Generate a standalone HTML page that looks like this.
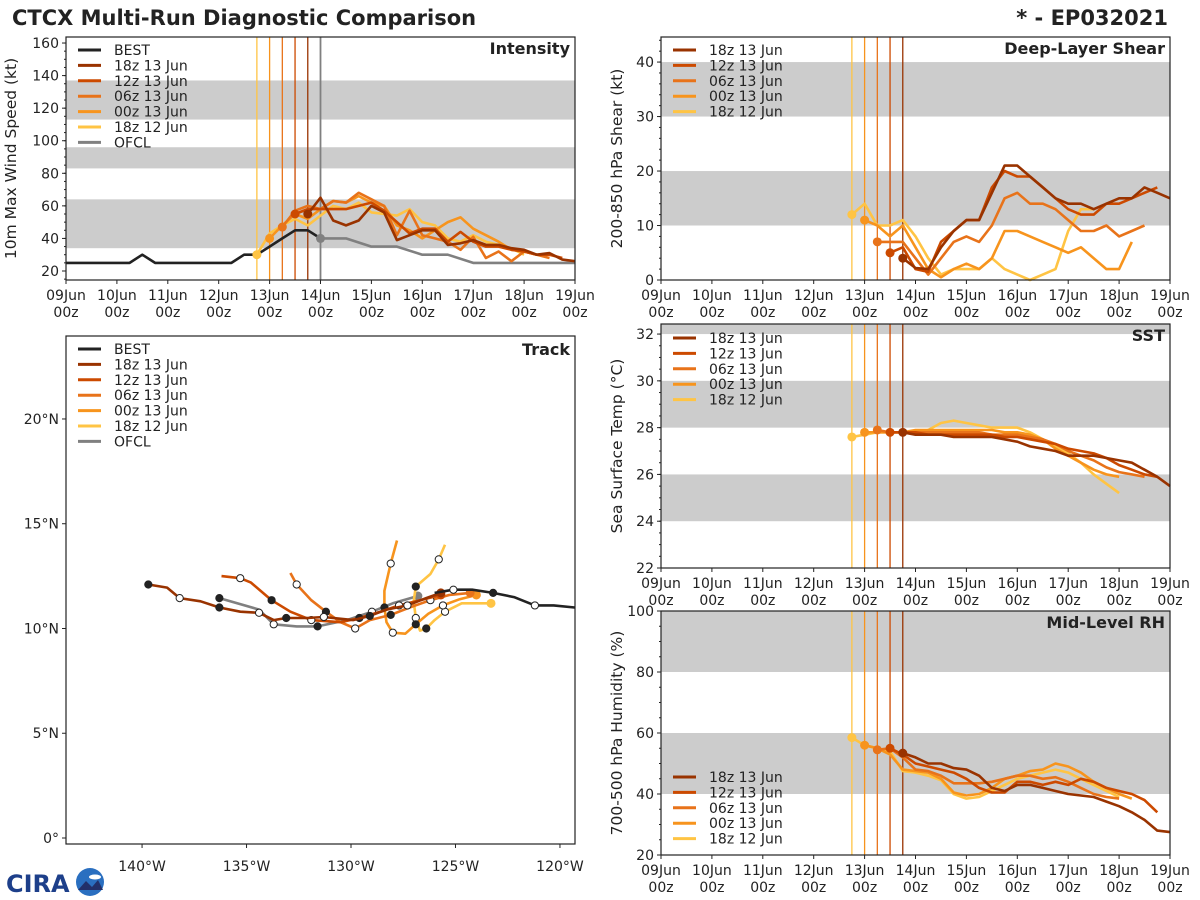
<!DOCTYPE html>
<html><head><meta charset="utf-8"><style>
html,body{margin:0;padding:0;background:#fff;}
svg{display:block;font-family:"DejaVu Sans","Liberation Sans",sans-serif;}
</style></head><body>
<svg id="fig" width="1200" height="900" viewBox="0 0 1200 900" xmlns="http://www.w3.org/2000/svg">
<text x="12" y="25" font-size="21" font-weight="bold" fill="#222">CTCX Multi-Run Diagnostic Comparison</text>
<text x="1168" y="25" font-size="21" font-weight="bold" fill="#222" text-anchor="end">* - EP032021</text>
<g>
<text x="6" y="892" font-size="24" font-weight="bold" fill="#1d3f8a">CIRA</text>
<circle cx="90" cy="882" r="14" fill="#2a6fc0"/>
<ellipse cx="95" cy="877" rx="6" ry="2.5" fill="#fff"/>
<path d="M78 890 L86 881 L92 887 L98 880 L103 890 Z" fill="#22306a"/>
</g>
</svg>
<script>
// ---------- data ----------
const dayLabels = ["09Jun","10Jun","11Jun","12Jun","13Jun","14Jun","15Jun","16Jun","17Jun","18Jun","19Jun"];
const runNames = ["18z 13 Jun","12z 13 Jun","06z 13 Jun","00z 13 Jun","18z 12 Jun"];
const runColors = ["#993300","#cc4a00","#e8731a","#f7941d","#ffc444"];
const runInit = [4.75, 4.5, 4.25, 4.0, 3.75]; // days since 09Jun 00z

const bestTimes = [0,0.25,0.5,0.75,1,1.25,1.5,1.75,2,2.25,2.5,2.75,3,3.25,3.5,3.75,4,4.25,4.5,4.75,5];
const bestVmax = [25,25,25,25,25,25,30,25,25,25,25,25,25,25,30,30,35,40,45,45,40];
const ofclTimes = [5,5.5,6,6.5,7,7.5,8,8.5,9,9.5,10];
const ofclVmax = [40,40,35,35,30,30,25,25,25,25,25];

const vmax18z13 = [55,65,51,48,51,60,56,39,42,45,45,36,37,39,36,36,34,33,30,31,27,26];
const vmax12z13 = [55,58,58,58,58,60,62,57,50,43,46,46,38,44,38,35,35,33,32,30,30,28];
const vmax06z13 = [47,57,60,58,63,62,68,64,60,42,57,42,40,38,33,41,28,32,26,32,30,28];
const vmax00z13 = [40,48,55,52,58,63,62,66,62,60,48,45,40,45,50,53,46,42,38,33,32,30];
const vmax18z12 = [30,43,48,52,48,54,60,58,62,56,55,54,58,50,48,40,38,42,38,36,34,30];

const shr18z13 = [4,2.2,2,6,9,11,11,16,21,21,19,17,15,14,14,13,14,15,15,17,16,15];
const shr12z13 = [5,6,2,1.5,7,9,11,11,17,20,19,19,17,15,13,12,12,14,14,15,16,17];
const shr06z13 = [7,7,7,4,1,4,7,8,7,10,15,16,14,14,13,11,9,9,10,8,9,10];
const shr00z13 = [11,10,8,10,6,2,0.5,2,3,2,4,9,9,8,7,6,5,6,4,2,2,7];
const shr18z12 = [12,14,10,10,11,8,4,1,2,2,2,4,2,1,0,1,2,9,13,13];

const sst18z13 = [27.8,27.7,27.7,27.7,27.6,27.6,27.6,27.6,27.5,27.4,27.2,27.1,27.0,26.8,26.8,26.8,26.7,26.6,26.5,26.2,25.9,25.5];
const sst12z13 = [27.8,27.8,27.8,27.7,27.7,27.7,27.7,27.7,27.7,27.6,27.6,27.5,27.4,27.3,27.1,27.0,26.9,26.7,26.4,26.2,26.0,25.9];
const sst06z13 = [27.9,27.8,27.8,27.8,27.8,27.8,27.8,27.8,27.8,27.7,27.7,27.7,27.6,27.5,27.3,27.0,26.8,26.6,26.3,26.1,26.0,25.9];
const sst00z13 = [27.8,27.8,27.8,27.8,27.9,27.9,27.9,27.9,27.9,27.9,27.9,27.8,27.8,27.7,27.5,27.1,26.8,26.5,26.2,26.0,25.9];
const sst18z12 = [27.6,27.7,27.8,27.8,27.8,27.8,27.9,28.2,28.3,28.2,28.1,28.0,28.0,28.0,27.8,27.5,27.2,26.9,26.5,26.0,25.6,25.2];

const rh18z13 = [53.4,52,50,50,48.5,48,46,42,41,43,43,42,41,40,39.5,39,37.5,36,34,31.5,28,27.5];
const rh12z13 = [55,53,50,49,48,47,45,42,40.5,40.5,44,44,43,44,43,45,44,42,41,40,38,34];
const rh06z13 = [54.5,55,52,48,47.5,46,43.5,43.5,43.5,44,45,46,46,45,45.5,44,42,40,39,38.5];
const rh00z13 = [56,55,53,48,47.5,47,45,40.5,39.5,40,42,45,46,47.5,48,50,49,47,44,42,40,38.5];
const rh18z12 = [58.5,56,55,54,47.5,47,46,44.5,40,38.5,39,41,43,45,46,47,48,47,45,43,41,39];

// track data: [lon(deg E, negative = W), lat]
const trkBest = [[-119.3,11.0],[-120.3,11.1],[-121.2,11.1],[-122.2,11.5],[-123.2,11.7],[-124.2,11.85],[-125.1,11.85],[-126.0,11.7]];
const trkOfcl = [[-126.8,11.55],[-128.0,11.2],[-129.0,10.8],[-130.2,10.4],[-131.6,10.1],[-132.6,10.1],[-133.7,10.2],[-134.4,10.9],[-136.3,11.45]];
const trk18z13 = [[-125.7,11.7],[-126.4,11.45],[-127.3,11.1],[-128.3,10.9],[-129.1,10.6],[-129.9,10.4],[-131.3,10.55],[-132.1,10.5],[-133.1,10.5],[-133.7,10.4],[-134.4,10.75],[-135.3,10.8],[-136.3,11.0],[-137.2,11.3],[-138.2,11.45],[-138.8,11.95],[-139.7,12.1]];
const trk12z13 = [[-125.7,11.6],[-126.7,11.35],[-127.7,11.1],[-128.6,10.8],[-129.6,10.5],[-130.5,10.3],[-131.9,10.4],[-132.9,10.8],[-133.8,11.35],[-134.8,12.2],[-135.3,12.4],[-136.2,12.5]];
const trk06z13 = [[-124.3,11.7],[-125.3,11.6],[-126.2,11.35],[-127.2,11.0],[-128.1,10.65],[-129.1,10.4],[-129.8,10.0],[-130.5,10.3],[-131.2,10.8],[-131.9,11.35],[-132.6,12.1],[-132.9,12.65]];
const trk00z13 = [[-124.0,11.6],[-124.8,11.4],[-125.6,11.1],[-126.3,10.7],[-126.9,10.2],[-127.4,9.75],[-128.0,9.8],[-128.3,10.3],[-128.4,11.0],[-128.4,11.8],[-128.1,13.1],[-127.8,14.2]];
const trk18z12 = [[-123.3,11.2],[-124.7,11.2],[-125.5,10.8],[-126.0,10.4],[-126.4,10.0],[-126.7,9.9],[-126.9,10.5],[-127.0,11.3],[-126.9,12.0],[-126.2,12.6],[-125.8,13.3],[-125.5,14.0]];
const lonTicks = [-140,-135,-130,-125,-120];
const lonTickLabels = ["140°W","135°W","130°W","125°W","120°W"];
const latTicks = [0,5,10,15,20];
const latTickLabels = ["0°","5°N","10°N","15°N","20°N"];

// ---------- drawing ----------
const NS = "http://www.w3.org/2000/svg";
const svg = document.getElementById("fig");
function mk(tag, attrs, parent){ const e=document.createElementNS(NS,tag); for(const k in attrs) e.setAttribute(k,attrs[k]); (parent||svg).appendChild(e); return e; }
function pts(arr){ return arr.map(p=>p[0].toFixed(1)+","+p[1].toFixed(1)).join(" "); }

function makePanel(cfg){
  const g = mk("g",{});
  
  
  const X = d => cfg.x0 + (d - cfg.dmin)/(cfg.dmax-cfg.dmin)*(cfg.x1-cfg.x0);
  const Y = v => cfg.y1 - (v - cfg.vmin)/(cfg.vmax-cfg.vmin)*(cfg.y1-cfg.y0);
  cfg.bands.forEach(b=>{
    const y0=Math.max(cfg.y0,Y(b[1])), y1=Math.min(cfg.y1,Y(b[0]));
    const r = mk("rect",{x:cfg.x0,y:y0,width:cfg.x1-cfg.x0,height:y1-y0,fill:"#cccccc"},g);
    
    
  });
  return {g,X,Y};
}

function timeAxes(p,cfg){
  const g=p.g;
  const frame = mk("rect",{x:cfg.x0,y:cfg.y0,width:cfg.x1-cfg.x0,height:cfg.y1-cfg.y0,fill:"none",stroke:"#222","stroke-width":1.2},g);
  
  
  dayLabels.forEach((lab,i)=>{
    const x=p.X(i);
    mk("line",{x1:x,x2:x,y1:cfg.y1,y2:cfg.y1+4,stroke:"#222"},g);
    const t=mk("text",{x:x,y:cfg.y1+20,"font-size":14,"text-anchor":"middle",fill:"#222"},g);
    
    
    t.textContent=lab;
    const t2=mk("text",{x:x,y:cfg.y1+37,"font-size":14,"text-anchor":"middle",fill:"#222"},g);
    
    
    t2.textContent="00z";
  });
  for(let v=cfg.minorStart; v<=cfg.vmax; v+=cfg.minor){
    const y=p.Y(v); mk("line",{x1:cfg.x0-2,x2:cfg.x0,y1:y,y2:y,stroke:"#222"},g);
  }
  cfg.yticks.forEach(v=>{
    const y=p.Y(v);
    mk("line",{x1:cfg.x0-4,x2:cfg.x0,y1:y,y2:y,stroke:"#222"},g);
    const t=mk("text",{x:cfg.x0-7,y:y+5,"font-size":14,"text-anchor":"end",fill:"#222"},g);
    
    
    t.textContent=v;
  });
  const cy=(cfg.y0+cfg.y1)/2;
  const yl=mk("text",{x:cfg.ylabX,y:cy,"font-size":15.5,"text-anchor":"middle",fill:"#222",transform:`rotate(-90 ${cfg.ylabX} ${cy})`},g);
  
  
  yl.textContent=cfg.ylabel;
  const tt=mk("text",{x:cfg.x1-5,y:cfg.y0+17,"font-size":16,"font-weight":"bold","text-anchor":"end",fill:"#222"},g);
  
  
  tt.textContent=cfg.title;
}

function legend(g,x,y,entries){
  const lg=mk("g",{},g);
  
  
  entries.forEach((e,i)=>{
    const yy=y+i*15.4;
    const ln=mk("line",{x1:x,x2:x+23,y1:yy,y2:yy,stroke:e[1],"stroke-width":3},lg);
    
    
    const t=mk("text",{x:x+36,y:yy+5,"font-size":14,fill:"#222"},lg);
    
    
    t.textContent=e[0];
  });
}

function initLines(p,cfg,withOfcl){
  runInit.forEach((d,i)=>{
    const l=mk("line",{x1:p.X(d),x2:p.X(d),y1:cfg.y0,y2:cfg.y1,stroke:runColors[i],"stroke-width":1.3},p.g);
    
    
  });
  if(withOfcl){
    const l=mk("line",{x1:p.X(5),x2:p.X(5),y1:cfg.y0,y2:cfg.y1,stroke:"#808080","stroke-width":1.8},p.g);
    
    
  }
}

function series(p,times,vals,color,name,dot){
  const arr=vals.map((v,i)=>[p.X(times[i]),p.Y(v)]);
  const pl=mk("polyline",{points:pts(arr),fill:"none",stroke:color,"stroke-width":2.6,"stroke-linejoin":"round"},p.g);
  
  
  if(dot){
    const c=mk("circle",{cx:arr[0][0],cy:arr[0][1],r:4.5,fill:color},p.g);
    
    
  }
}
function runTimes(i,n){ const t=[]; for(let k=0;k<n;k++) t.push(runInit[i]+0.25*k); return t; }
function drawRuns(p,sets,base){
  for(let i=sets.length-1;i>=0;i--){
    series(p,runTimes(i,sets[i].length),sets[i],runColors[i],base+'-'+runNames[i].replace(/ /g,'').toLowerCase(),true);
  }
}

const runEntries = runNames.map((n,i)=>[n,runColors[i]]);

// Intensity
const c1={name:"intensity-panel",x0:66,x1:575,y0:37,y1:280,dmin:0,dmax:10,vmin:14.47,vmax:163.7,bands:[[34,64],[83,96],[113,137]],yticks:[20,40,60,80,100,120,140,160],minor:5,minorStart:15,ylabX:16,ylabel:"10m Max Wind Speed (kt)",title:"Intensity"};
const p1=makePanel(c1);
initLines(p1,c1,true);
series(p1,bestTimes,bestVmax,"#222222","best-intensity-line",false);
series(p1,ofclTimes,ofclVmax,"#808080","ofcl-intensity-line",true);
drawRuns(p1,[vmax18z13,vmax12z13,vmax06z13,vmax00z13,vmax18z12],"intensity");
timeAxes(p1,c1);
legend(p1.g,78,50,[["BEST","#222"]].concat(runEntries,[["OFCL","#808080"]]));

// Shear
const c2={name:"shear-panel",x0:661,x1:1170,y0:37,y1:280,dmin:0,dmax:10,vmin:0,vmax:44.6,bands:[[10,20],[30,40]],yticks:[0,10,20,30,40],minor:2,minorStart:0,ylabX:622,ylabel:"200-850 hPa Shear (kt)",title:"Deep-Layer Shear"};
const p2=makePanel(c2);
initLines(p2,c2,false);
drawRuns(p2,[shr18z13,shr12z13,shr06z13,shr00z13,shr18z12],"shear");
timeAxes(p2,c2);
legend(p2.g,673,50,runEntries);

// SST
const c3={name:"sst-panel",x0:661,x1:1170,y0:324,y1:568,dmin:0,dmax:10,vmin:22,vmax:32.43,bands:[[24,26],[28,30],[32,34]],yticks:[22,24,26,28,30,32],minor:0.5,minorStart:22,ylabX:622,ylabel:"Sea Surface Temp (°C)",title:"SST"};
const p3=makePanel(c3);
initLines(p3,c3,false);
drawRuns(p3,[sst18z13,sst12z13,sst06z13,sst00z13,sst18z12],"sst");
timeAxes(p3,c3);
legend(p3.g,673,338,runEntries);

// RH
const c4={name:"rh-panel",x0:661,x1:1170,y0:611,y1:855,dmin:0,dmax:10,vmin:20,vmax:100,bands:[[40,60],[80,100]],yticks:[20,40,60,80,100],minor:5,minorStart:20,ylabX:622,ylabel:"700-500 hPa Humidity (%)",title:"Mid-Level RH"};
const p4=makePanel(c4);
initLines(p4,c4,false);
drawRuns(p4,[rh18z13,rh12z13,rh06z13,rh00z13,rh18z12],"rh");
timeAxes(p4,c4);
legend(p4.g,673,777,runEntries);

// Track
const ct={x0:66,x1:575,y0:336,y1:844,lon0:-143.64,lon1:-119.28,lat0:-0.286,lat1:23.96};
const tg=mk("g",{});


const LX=lon=>ct.x0+(lon-ct.lon0)/(ct.lon1-ct.lon0)*(ct.x1-ct.x0);
const LY=lat=>ct.y1-(lat-ct.lat0)/(ct.lat1-ct.lat0)*(ct.y1-ct.y0);
function track(arr,color,name,startDot){
  const xy=arr.map(p=>[LX(p[0]),LY(p[1])]);
  const pl=mk("polyline",{points:pts(xy),fill:"none",stroke:color,"stroke-width":2.6,"stroke-linejoin":"round"},tg);
  
  
  xy.forEach((q,i)=>{
    if(i===0 && startDot){
      const c=mk("circle",{cx:q[0],cy:q[1],r:4.5,fill:color},tg);
      
      
    } else if(i>0 && i%2===0){
      const filled=(i%4===0);
      const c=mk("circle",{cx:q[0],cy:q[1],r:3.6,fill:filled?"#222":"#fff",stroke:"#222","stroke-width":1},tg);
      
      
    }
  });
}
const tracks=[trk18z13,trk12z13,trk06z13,trk00z13,trk18z12];
track(trkOfcl,"#808080","ofcl-track",true);
for(let i=tracks.length-1;i>=0;i--) track(tracks[i],runColors[i],'track-'+runNames[i].replace(/ /g,'').toLowerCase(),true);
track(trkBest,"#222222","best-track",false);
const tf=mk("rect",{x:ct.x0,y:ct.y0,width:ct.x1-ct.x0,height:ct.y1-ct.y0,fill:"none",stroke:"#222","stroke-width":1.2},tg);


lonTicks.forEach((lon,i)=>{
  const x=LX(lon);
  mk("line",{x1:x,x2:x,y1:ct.y1,y2:ct.y1+4,stroke:"#222"},tg);
  const t=mk("text",{x:x,y:871,"font-size":14,"text-anchor":"middle",fill:"#222"},tg);
  
  
  t.textContent=lonTickLabels[i];
});
latTicks.forEach((lat,i)=>{
  const y=LY(lat);
  mk("line",{x1:ct.x0-4,x2:ct.x0,y1:y,y2:y,stroke:"#222"},tg);
  const t=mk("text",{x:ct.x0-7,y:y+5,"font-size":14,"text-anchor":"end",fill:"#222"},tg);
  
  
  t.textContent=latTickLabels[i];
});
const ttl=mk("text",{x:ct.x1-5,y:ct.y0+19,"font-size":16,"font-weight":"bold","text-anchor":"end",fill:"#222"},tg);


ttl.textContent="Track";
legend(tg,78,349,[["BEST","#222"]].concat(runEntries,[["OFCL","#808080"]]));
</script>
</body></html>
